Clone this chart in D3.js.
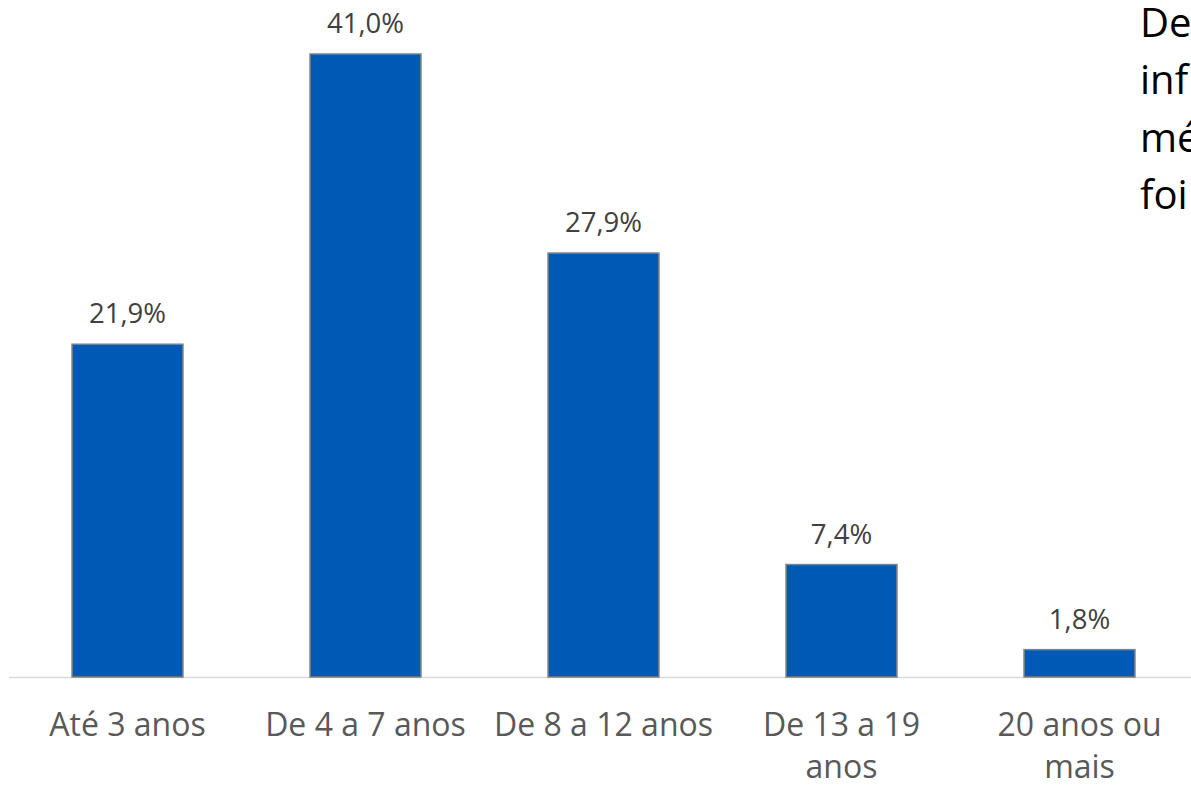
<!DOCTYPE html>
<html lang="pt">
<head>
<meta charset="utf-8">
<script src="https://cdn.jsdelivr.net/npm/d3@7/dist/d3.min.js"></script>
<style>
  html, body { margin: 0; padding: 0; background: #fff; overflow: hidden; }
  svg { display: block; font-family: "Open Sans", Lato, sans-serif; }
</style>
</head>
<body>
<svg id="chart" width="1191" height="785"></svg>
<script>
/* Tempo de uso em faixas (%), barras verticais com rótulos */

const categories = ["Até 3 anos", "De 4 a 7 anos", "De 8 a 12 anos", "De 13 a 19 anos", "20 anos ou mais"];
const categoryLines = [["Até 3 anos"], ["De 4 a 7 anos"], ["De 8 a 12 anos"], ["De 13 a 19", "anos"], ["20 anos ou", "mais"]];
const values = [21.9, 41.0, 27.9, 7.4, 1.8];
const valueLabels = ["21,9%", "41,0%", "27,9%", "7,4%", "1,8%"];
// texto lateral que aparece cortado na borda direita
const sideText = ["De", "inf", "mé", "foi"];

const width = 1191;
const height = 785;
const baseY = 677;
const BAR_FILL = "#005ab5";
const BAR_STROKE = "#808080";

const svg = d3.select("#chart");

const x = d3.scaleBand()
  .domain(categories)
  .range([8.5, 1198.5])
  .paddingInner(0.534)
  .paddingOuter(0.267);

const y = d3.scaleLinear()
  .domain([0, 41])
  .range([baseY, 54]);

// baseline
svg.append("line")
  .attr("x1", 9)
  .attr("x2", width)
  .attr("y1", baseY + 0.5)
  .attr("y2", baseY + 0.5)
  .attr("stroke", "#d9d9d9")
  .attr("stroke-width", 1.5);

const data = categories.map((c, i) => ({ c, v: values[i], label: valueLabels[i], lines: categoryLines[i] }));

svg.append("g")
  .selectAll("rect")
  .data(data)
  .join("rect")
  .attr("x", (d) => x(d.c))
  .attr("y", (d) => y(d.v))
  .attr("width", x.bandwidth())
  .attr("height", (d) => baseY - y(d.v))
  .attr("fill", BAR_FILL)
  .attr("stroke", BAR_STROKE)
  .attr("stroke-width", 1.5);

svg.append("g")
  .selectAll("text")
  .data(data)
  .join("text")
  .attr("x", (d) => x(d.c) + x.bandwidth() / 2)
  .attr("y", (d) => y(d.v) - 21)
  .attr("text-anchor", "middle")
  .attr("font-size", 27.5)
  .attr("fill", "#404040")
  .text((d) => d.label);

const cat = svg.append("g")
  .selectAll("text")
  .data(data)
  .join("text")
  .attr("text-anchor", "middle")
  .attr("font-size", 32)
  .attr("fill", "#595959");

cat.selectAll("tspan")
  .data((d) => d.lines.map((line) => ({ line, cx: x(d.c) + x.bandwidth() / 2 })))
  .join("tspan")
  .attr("x", (d) => d.cx)
  .attr("y", (d, i) => 736 + i * 42)
  .text((d) => d.line);

svg.append("g")
  .selectAll("text")
  .data(sideText)
  .join("text")
  .attr("x", 1140)
  .attr("y", (d, i) => 37 + i * 57.3)
  .attr("font-size", 40)
  .attr("fill", "#000")
  .text((d) => d);
</script>
</body>
</html>
